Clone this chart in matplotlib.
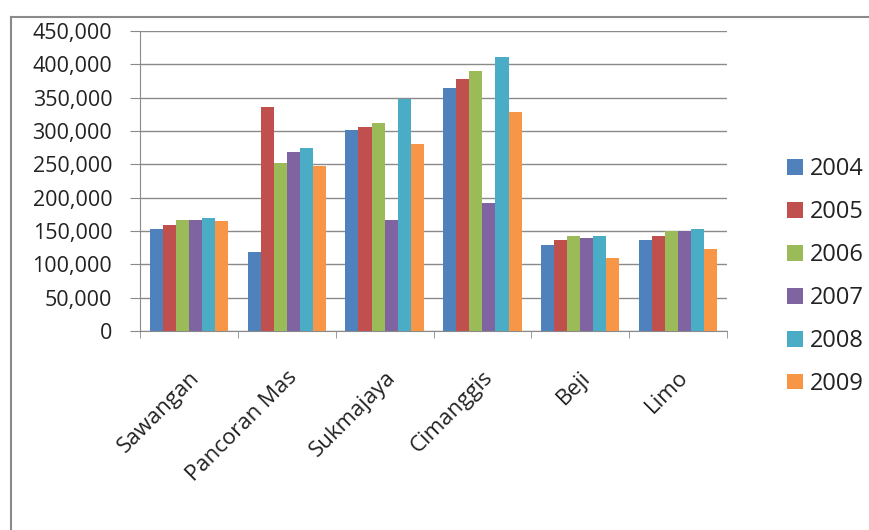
import numpy as np
import matplotlib
matplotlib.use("Agg")
import matplotlib.pyplot as plt
from matplotlib.lines import Line2D

plt.rcParams['font.family'] = ['Open Sans', 'DejaVu Sans']

kecamatan = ['Sawangan', 'Pancoran Mas', 'Sukmajaya', 'Cimanggis', 'Beji', 'Limo']
tahun = ['2004', '2005', '2006', '2007', '2008', '2009']

v2004 = [152500, 118000, 301000, 364500, 129500, 137000]
v2005 = [158500, 335500, 306500, 378000, 137000, 143000]
v2006 = [166000, 252500, 312500, 389500, 143000, 149500]
v2007 = [166000, 268000, 166000, 192500, 139000, 149500]
v2008 = [170000, 274000, 348500, 410500, 143000, 152500]
v2009 = [164500, 248000, 280000, 328000, 110000, 123500]

series = [v2004, v2005, v2006, v2007, v2008, v2009]
colors = ['#4F81BD', '#C0504D', '#9BBB59', '#8064A2', '#4BACC6', '#F79646']

fig = plt.figure(figsize=(8.69, 5.30), dpi=100)
ax = fig.add_axes([140/869, 1-331/530, (727-140)/869, 300/530])

x = np.arange(len(kecamatan))
w = 0.8 / len(series)
for i, (vals, c) in enumerate(zip(series, colors)):
    ax.bar(x + (i - 2.5) * w, vals, width=w, color=c, label=tahun[i], zorder=3)

ax.set_xlim(-0.5, 5.5)
ax.set_ylim(0, 450000)
ax.set_yticks(np.arange(0, 450001, 50000))
ax.set_yticklabels([f'{v:,}' for v in range(0, 450001, 50000)], fontsize=15.5, color='#222222')
ax.yaxis.grid(True, color='#8a8a8a', linewidth=1, zorder=0)

ax.set_xticks(x)
ax.set_xticklabels(kecamatan, rotation=45, ha='right', rotation_mode='anchor',
                   fontsize=16, color='#222222')
ax.set_xticks(np.arange(-0.5, 6, 1), minor=True)
ax.tick_params(axis='x', which='major', length=0, pad=26)
ax.tick_params(axis='x', which='minor', length=5, color='#8a8a8a')
ax.tick_params(axis='y', length=7, color='#8a8a8a', pad=13)

for s in ['top', 'right']:
    ax.spines[s].set_visible(False)
for s in ['left', 'bottom']:
    ax.spines[s].set_color('#8a8a8a')

leg = fig.legend(loc='upper left', bbox_to_anchor=(778/869, 1-148/530), frameon=False,
                 fontsize=17, handlelength=0.65, handleheight=0.65, handletextpad=0.3,
                 labelspacing=0.8, borderaxespad=0)
for t in leg.get_texts():
    t.set_color('#222222')

# chart area border
fig.add_artist(Line2D([11/869, 11/869], [0, 1-17/530], color='#8a8a8a', linewidth=1.5))
fig.add_artist(Line2D([11/869, 1], [1-17/530, 1-17/530], color='#8a8a8a', linewidth=1.5))

fig.savefig('out.png', dpi=100)
